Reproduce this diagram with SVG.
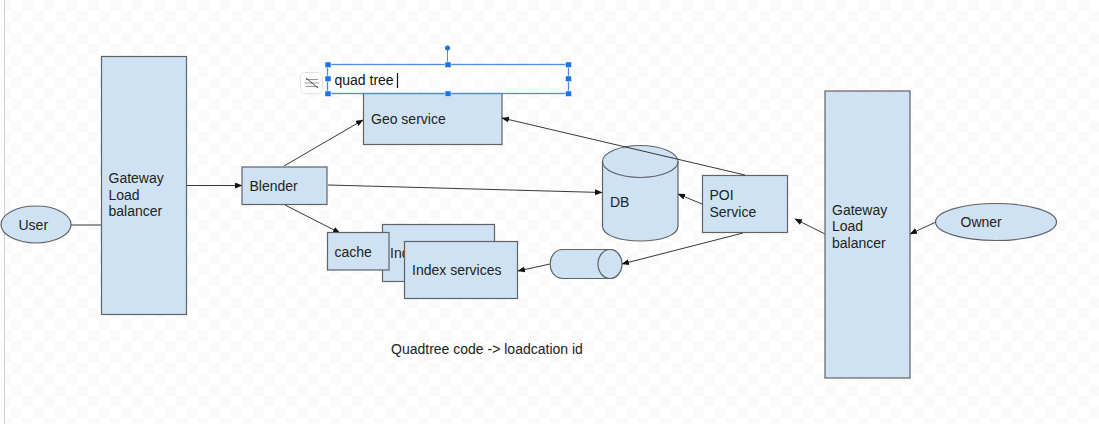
<svg xmlns="http://www.w3.org/2000/svg" width="1099" height="424" viewBox="0 0 1099 424">
<style>
.s{fill:#cfe2f3;stroke:#5f6368;stroke-width:1.200}
.t{font-family:"Liberation Sans",Arial,sans-serif;font-size:14px;fill:#222}
.c{fill:none;stroke:#222;stroke-width:.9}
.h{fill:#1a73e8;stroke:#fff;stroke-width:.5}
</style>
<defs>
<marker id="a" markerWidth="8" markerHeight="7" refX="7" refY="3" orient="auto" markerUnits="userSpaceOnUse"><path d="M0 0L7.500 3L0 6z" fill="#111"/></marker>
<pattern id="chk" width="22" height="22" patternUnits="userSpaceOnUse"><rect width="22" height="22" fill="#fff"/><rect width="11" height="11" fill="#fafafa"/><rect x="11" y="11" width="11" height="11" fill="#fafafa"/></pattern>
</defs>
<rect width="1099" height="424" fill="url(#chk)"/>
<rect x="0" y="0" width="4" height="424" fill="#fff"/>
<path d="M4.500 0V424" stroke="#d0d0d0" stroke-width="1"/>
<g id="connectors">
<path class="c" d="M71 225H102"/>
<path class="c" marker-end="url(#a)" d="M187 185.500H242"/>
<path class="c" marker-end="url(#a)" d="M284 166L363 120"/>
<path class="c" marker-end="url(#a)" d="M328 185L602 192.500"/>
<path class="c" marker-end="url(#a)" d="M285 205L340 233"/>
<path class="c" marker-end="url(#a)" d="M702 204L678 194"/>
<path class="c" marker-end="url(#a)" d="M743 233L622 264"/>
<path class="c" marker-end="url(#a)" d="M550 264L518 271"/>
<path class="c" marker-end="url(#a)" d="M825 234L795 219"/>
<path class="c" marker-end="url(#a)" d="M936 222L910 234"/>
</g>
<g id="user"><ellipse class="s" cx="36" cy="224.500" rx="35" ry="18.500"/><text class="t" x="18.500" y="230">User</text></g>
<g id="gateway-left"><rect class="s" x="101.500" y="56.500" width="85" height="258"/><text class="t" x="108.500" y="183">Gateway</text><text class="t" x="108.500" y="199.500">Load</text><text class="t" x="108.500" y="215.500">balancer</text></g>
<g id="blender"><rect class="s" x="242" y="167" width="85" height="37.500"/><text class="t" x="249.500" y="191">Blender</text></g>
<g id="geo-service"><rect class="s" x="363.500" y="93.500" width="138.500" height="51"/><text class="t" x="371" y="124">Geo service</text></g>
<g id="index-back"><rect class="s" x="382.500" y="224.500" width="112" height="57"/><text class="t" x="390" y="258">Index services</text></g>
<g id="cache"><rect class="s" x="327.500" y="232.500" width="61.500" height="37.500"/><text class="t" x="334.500" y="257">cache</text></g>
<g id="index-services"><rect class="s" x="404.500" y="241.500" width="113" height="57"/><text class="t" x="412" y="275">Index services</text></g>
<g id="db"><path class="s" d="M602.500 161.500V226C602.500 246 678 246 678 226V161.500Z"/><ellipse class="s" cx="640.250" cy="161.500" rx="37.750" ry="16"/><text class="t" x="610" y="207">DB</text></g>
<g id="queue"><path class="s" d="M563 249.500H610C625 249.500 625 278.500 610 278.500H563C546 278.500 546 249.500 563 249.500Z"/><ellipse class="s" cx="610" cy="264" rx="12" ry="14.500"/></g>
<g id="poi-service"><rect class="s" x="702.500" y="175.500" width="85" height="57"/><text class="t" x="709.500" y="200">POI</text><text class="t" x="709.500" y="217">Service</text></g>
<g id="gateway-right"><rect class="s" x="825" y="91" width="85" height="287"/><text class="t" x="832" y="215">Gateway</text><text class="t" x="832" y="231">Load</text><text class="t" x="832" y="248">balancer</text></g>
<g id="owner"><ellipse class="s" cx="996" cy="222" rx="60.500" ry="18.500"/><text class="t" x="960.500" y="227">Owner</text></g>
<g id="note"><text class="t" x="391" y="354">Quadtree code -&gt; loadcation id</text></g>
<g id="connectors-over"><path class="c" marker-end="url(#a)" d="M745 175L502 118"/></g>
<g id="quad-tree-selection">
<path d="M447.500 48V64" stroke="#4a90e2" stroke-width="1"/>
<rect x="327.500" y="64.500" width="241" height="29" fill="#fff" fill-opacity=".3" stroke="#4a90e2" stroke-width="1.300"/>
<circle cx="447.500" cy="48" r="2.500" fill="#1a73e8"/>
<g class="h"><rect x="325" y="62" width="6" height="5.500"/><rect x="445" y="62" width="6" height="5.500"/><rect x="565.500" y="62" width="6" height="5.500"/><rect x="325" y="76" width="6" height="5.500"/><rect x="565.500" y="76" width="6" height="5.500"/><rect x="325" y="91" width="6" height="5.500"/><rect x="445" y="91" width="6" height="5.500"/><rect x="565.500" y="91" width="6" height="5.500"/></g>
<text class="t" x="334.500" y="85" style="fill:#111">quad tree</text>
<path d="M397.500 73V88" stroke="#111" stroke-width="1.200"/>
<rect x="300.500" y="72.500" width="22" height="21" rx="4" fill="#fff" stroke="#e4e4e4"/>
<path d="M306 79.500H318M305 83H319M306 86.500H318" stroke="#999" stroke-width="1"/><path d="M306 78L318 88" stroke="#444" stroke-width="1"/>
</g>
</svg>
